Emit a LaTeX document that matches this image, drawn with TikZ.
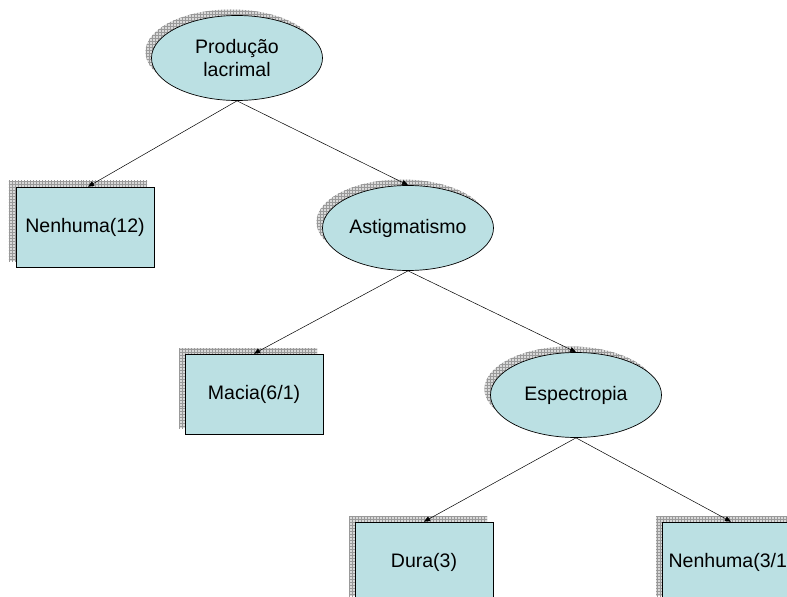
\documentclass[tikz,border=0pt]{standalone}
\usepackage{fontspec}
\setmainfont{Liberation Sans}
\usetikzlibrary{shapes.geometric,arrows.meta,patterns}
\definecolor{boxfill}{RGB}{187,224,227}
\tikzset{
  labelfont/.style={font=\fontsize{19.6}{22.5}\selectfont},
  ell/.style={ellipse, draw=black, line width=0.7bp, fill=boxfill,
    minimum width=171bp, minimum height=85bp, inner sep=0pt, align=center, labelfont},
  leaf/.style={rectangle, draw=black, line width=0.7bp, fill=boxfill,
    minimum width=138bp, minimum height=80bp, inner sep=0pt, labelfont},
  shad/.style={draw=none, preaction={fill=gray!30}, pattern=grid, pattern color=gray!80},
  ellshad/.style={ellipse, shad, minimum width=171bp, minimum height=85bp, inner sep=0pt},
  leafshad/.style={rectangle, shad, minimum width=138bp, minimum height=80bp, inner sep=0pt},
  conn/.style={-{Triangle[length=6bp,width=5bp]}, line width=0.5bp}
}
\begin{document}
\begin{tikzpicture}[x=1bp,y=-1bp]
\useasboundingbox (0,0) rectangle (787,597);
\clip (0,0) rectangle (787,597);
% shadows
\node[ellshad] (s1) at (231,52) {};
\node[leafshad] (s2) at (78,221) {};
\node[ellshad] (s3) at (402,222) {};
\node[leafshad] (s4) at (248,388) {};
\node[ellshad] (s5) at (570,389) {};
\node[leafshad] (s6) at (418,556) {};
\node[leafshad] (s7) at (725,556) {};
% nodes
\node[ell] (prod) at (237,58) {Produção\\lacrimal};
\node[leaf] (nen1) at (85,227) {Nenhuma(12)};
\node[ell] (ast) at (408,228) {Astigmatismo};
\node[leaf] (mac) at (254,394) {Macia(6/1)};
\node[ell] (esp) at (576,395) {Espectropia};
\node[leaf] (dura) at (424,562) {Dura(3)};
\node[leaf] (nen2) at (731,562) {Nenhuma(3/1)};
% connectors
\draw[conn] (prod.south) -- ([xshift=3bp]nen1.north);
\draw[conn] (prod.south) -- (ast.north);
\draw[conn] (ast.south) -- (mac.north);
\draw[conn] (ast.south) -- (esp.north);
\draw[conn] (esp.south) -- (dura.north);
\draw[conn] (esp.south) -- (nen2.north);
\end{tikzpicture}
\end{document}
